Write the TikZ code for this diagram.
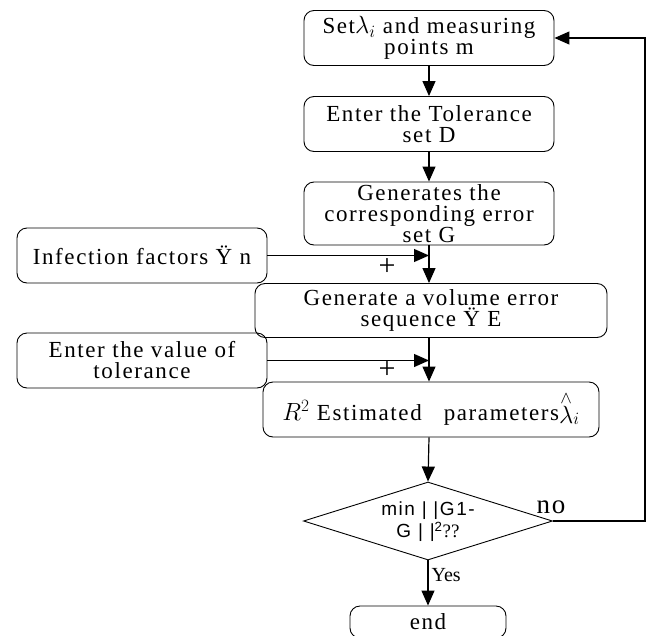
\documentclass[tikz,border=0pt]{standalone}
\usepackage{fontspec}
\setmainfont{Liberation Serif}[LetterSpace=7]
\newfontfamily\dsans{Liberation Sans}[LetterSpace=8]
\newfontfamily\plainserif{Liberation Serif}
\usetikzlibrary{arrows.meta,shapes.geometric}
\begin{document}
\begin{tikzpicture}[x=1pt,y=-1pt,
  box/.style={draw, line width=0.9pt, rounded corners=10pt, minimum width=250pt, minimum height=55pt, align=center, inner sep=2pt, font=\fontsize{23}{21}\selectfont},
  arr/.style={line width=1.2pt, -{Triangle[length=15pt,width=13pt]}},
  lbl/.style={inner sep=0pt}]
\useasboundingbox (0,0) rectangle (648,635);
\node[box] (b1) at (429,38) {Set$\lambda_i$ and measuring\\points m};
\node[box] (b2) at (429,124) {Enter the Tolerance\\set D};
\node[box, minimum height=63pt] (b3) at (429,213.5) {Generates the\\corresponding error\\set G};
\node[box] (inf) at (142,255.5) {Infection factors Ÿ n};
\node[box, minimum width=352pt, minimum height=54pt] (b4) at (431,310.5) {Generate a volume error\\sequence Ÿ E};
\node[box] (tol) at (142,360.5) {Enter the value of\\tolerance};
\node[box, minimum width=336pt] (b5) at (431,409.5) {$R^2$ Estimated\hspace{22pt}parameters$\stackrel{\wedge}{\lambda}_i$};
\node[diamond, draw, line width=0.9pt, minimum width=249pt, minimum height=78pt, inner sep=0pt] (d) at (428,521) {};
\node[font=\dsans\fontsize{19}{22}\selectfont, align=center, inner sep=0pt] (dt) at (428,522) {min | |G1-\\G | |\textsuperscript{2}{\plainserif ??}};
\node[box, minimum width=156pt, minimum height=32pt, font=\fontsize{23}{21}\selectfont] (e) at (428,622) {end};
\coordinate (fb) at (645,38);
\draw[arr] (b1) -- (b2);
\draw[arr] (b2) -- (b3);
\draw[arr] (b3.south) -- (b3.south |- b4.north);
\draw[arr] (inf.east) -- (inf.east -| b3.south);
\draw[arr] (b3.south |- b4.south) -- (b3.south |- b5.north);
\draw[arr] (tol.east) -- (tol.east -| b3.south);
\draw[arr] (b3.south |- b5.south) -- (d.north);
\draw[arr] (d.south) -- node[right, pos=0.33, inner sep=3pt, font=\plainserif\fontsize{20}{20}\selectfont] (yes) {Yes} (e.north);
\draw[arr] (d.east) -| (fb) -- (b1.east);
\node[lbl, font=\fontsize{27}{27}\selectfont] (no) at (551,507) {no};
\node[lbl, font=\plainserif\fontsize{30}{30}\selectfont] (p1) at (387,267) {+};
\node[lbl, font=\plainserif\fontsize{30}{30}\selectfont] (p2) at (387,370) {+};
\end{tikzpicture}
\end{document}
